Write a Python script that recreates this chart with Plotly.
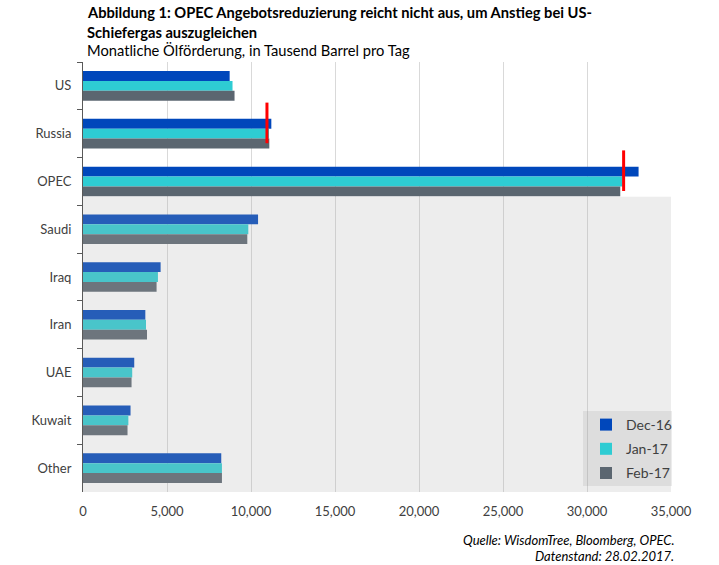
import plotly.graph_objects as go

# data (thousand barrels per day)
countries = ["US", "Russia", "OPEC", "Saudi", "Iraq", "Iran", "UAE", "Kuwait", "Other"]
dec_16 = [8730, 11210, 33070, 10420, 4620, 3710, 3050, 2830, 8230]
jan_17 = [8900, 11070, 32120, 9840, 4460, 3750, 2930, 2700, 8270]
feb_17 = [9020, 11090, 31980, 9780, 4380, 3810, 2890, 2650, 8270]
series_names = ["Dec-16", "Jan-17", "Feb-17"]

# red markers (target levels)
target_countries = ["Russia", "OPEC"]
target_values = [10950, 32180]

colors = ["#0047BB", "#2ECCD3", "#5B6670"]
font = "Lato"

W, H = 719, 565
L, R, T, B = 83, 48, 62, 73
plot_w = W - L - R
plot_h = H - T - B


def px(pixel_x):
    return (pixel_x - L) / plot_w


def py(pixel_y):
    # pixel y from top -> paper coordinate
    return (H - B - pixel_y) / plot_h


fig = go.Figure()
for name, vals, c in zip(series_names, [dec_16, jan_17, feb_17], colors):
    fig.add_trace(go.Bar(y=countries, x=vals, name=name, orientation="h",
                         legendgroup=name,
                         marker=dict(color=c, line=dict(width=0))))

# grey overlay over the OPEC member rows
fig.add_shape(type="rect", xref="x", yref="y", x0=0, x1=35000,
              y0=countries.index("OPEC") + 0.32, y1=len(countries) - 0.5,
              fillcolor="rgba(172,172,172,0.22)", line=dict(width=0), layer="above")

for c, v in zip(target_countries, target_values):
    i = countries.index(c)
    fig.add_shape(type="line", xref="x", yref="y", x0=v, x1=v,
                  y0=i - 0.65, y1=i + 0.2,
                  line=dict(color="#FF0000", width=3), layer="above")

# legend backdrop
fig.add_shape(type="rect", xref="paper", yref="paper",
              x0=px(583), x1=px(672), y0=py(486), y1=py(411),
              fillcolor="rgba(150,150,150,0.18)", line=dict(width=0), layer="above")

title_lines = [
    ("<b>Abbildung 1: OPEC Angebotsreduzierung reicht nicht aus, um Anstieg bei US-</b>", 12),
    ("<b>Schiefergas auszugleichen</b>", 32),
    ("Monatliche Ölförderung, in Tausend Barrel pro Tag", 50),
]
for txt, y in title_lines:
    fig.add_annotation(text=txt, xref="paper", yref="paper", x=px(85),
                       y=py(y), xanchor="left", yanchor="middle", showarrow=False,
                       font=dict(family=font, size=14.7, color="#000000"))

for txt, y in [("<i>Quelle: WisdomTree, Bloomberg, OPEC.</i>", 540),
               ("<i>Datenstand: 28.02.2017.</i>", 556)]:
    fig.add_annotation(text=txt, xref="paper", yref="paper", x=px(676),
                       y=py(y), xanchor="right", yanchor="middle", showarrow=False,
                       font=dict(family=font, size=13, color="#000000"))

fig.update_layout(
    width=W, height=H,
    margin=dict(l=L, r=R, t=T, b=B, autoexpand=False),
    paper_bgcolor="white", plot_bgcolor="white",
    barmode="group", bargap=0.38, bargroupgap=0,
    font=dict(family=font, size=13, color="#404040"),
    legend=dict(x=px(586), xanchor="left", y=py(409), yanchor="top",
                bgcolor="rgba(0,0,0,0)", font=dict(size=14, color="#404040"),
                tracegroupgap=3, itemwidth=30),
    showlegend=True,
)
fig.update_xaxes(range=[0, 35000], tickvals=list(range(0, 35001, 5000)),
                 tickformat=",d", showgrid=True, gridcolor="#D9D9D9", gridwidth=1,
                 showline=False, zeroline=False, ticks="", ticklabelstandoff=10,
                 automargin=False)
fig.update_yaxes(autorange="reversed", showline=True, linecolor="#595959", linewidth=1,
                 ticks="outside", ticklen=5, tickcolor="#595959", tickson="boundaries",
                 showgrid=False, ticklabelstandoff=8, automargin=False)

# the page body has a default margin; drop it so the figure fills the window
fig.write_html("out.html", config={"displayModeBar": False},
               post_script="document.body.style.margin='0px';")
